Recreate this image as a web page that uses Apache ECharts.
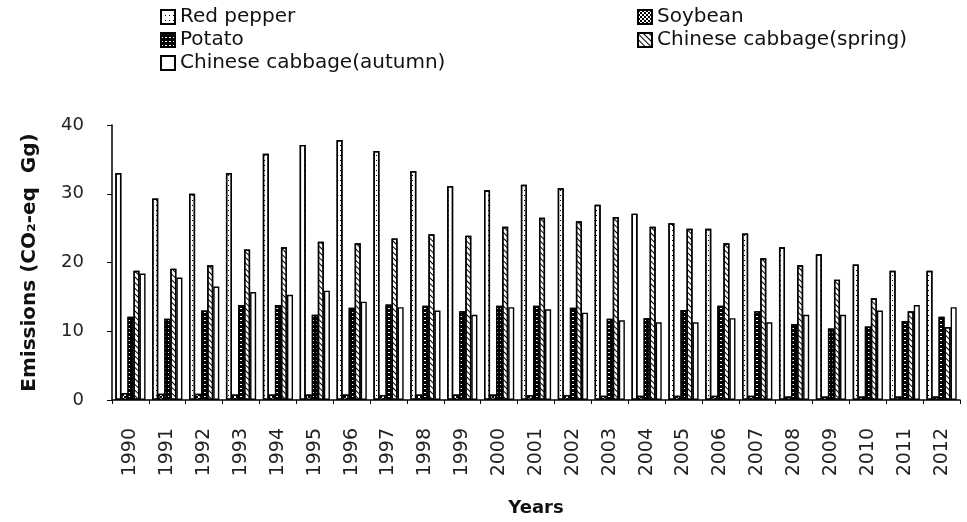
<!DOCTYPE html>
<html>
<head>
<meta charset="utf-8">
<script src="https://cdn.jsdelivr.net/npm/echarts@6/dist/echarts.min.js"></script>
<style>
  html, body { margin: 0; padding: 0; background: #fff; }
  #chart { width: 967px; height: 522px; }
</style>
</head>
<body>
<div id="chart"></div>
<script>
var years = ['1990', '1991', '1992', '1993', '1994', '1995', '1996', '1997', '1998', '1999', '2000', '2001',
  '2002', '2003', '2004', '2005', '2006', '2007', '2008', '2009', '2010', '2011', '2012'];

var redPepper = [33.0, 29.3, 30.0, 33.0, 35.8, 37.1, 37.8, 36.2, 33.3, 31.1, 30.5, 31.3,
  30.8, 28.4, 27.1, 25.7, 24.9, 24.2, 22.2, 21.2, 19.7, 18.8, 18.8];
var soybean = [1.0, 0.9, 0.9, 0.8, 0.8, 0.8, 0.8, 0.7, 0.8, 0.8, 0.8, 0.7,
  0.7, 0.6, 0.6, 0.6, 0.6, 0.6, 0.5, 0.5, 0.5, 0.5, 0.5];
var potato = [12.1, 11.8, 13.0, 13.8, 13.8, 12.4, 13.4, 13.9, 13.7, 12.9, 13.7, 13.7,
  13.4, 11.8, 11.9, 13.1, 13.7, 12.9, 11.0, 10.4, 10.7, 11.5, 12.1];
var cabbageSpring = [18.8, 19.1, 19.6, 21.9, 22.2, 23.0, 22.8, 23.5, 24.1, 23.9, 25.2, 26.5,
  26.0, 26.6, 25.2, 24.9, 22.8, 20.6, 19.6, 17.5, 14.8, 12.9, 10.6];
var cabbageAutumn = [18.4, 17.8, 16.5, 15.7, 15.3, 15.9, 14.3, 13.5, 13.0, 12.4, 13.5, 13.2,
  12.7, 11.6, 11.3, 11.3, 11.9, 11.3, 12.4, 12.4, 13.0, 13.8, 13.5];

var yTicks = { min: 0, max: 40, step: 10 };

(function () {
  var mychart = echarts.init(document.getElementById('chart'));

  var legendText = { fontFamily: 'DejaVu Sans', fontSize: 20, color: '#111' };

  function bar(name, data, fill, decal) {
    return {
      name: name,
      type: 'bar',
      data: data,
      barGap: '0%',
      barCategoryGap: '18%',
      itemStyle: {
        color: fill,
        borderColor: '#000',
        borderWidth: 1.4,
        decal: decal
      }
    };
  }

  var option = {
    animation: false,
    backgroundColor: '#fff',
    legend: [
      {
        left: 155, top: 2, orient: 'vertical', itemGap: 3,
        itemWidth: 14, itemHeight: 14, icon: 'rect',
        textStyle: legendText,
        data: ['Red pepper', 'Potato', 'Chinese cabbage(autumn)']
      },
      {
        left: 632, top: 2, orient: 'vertical', itemGap: 3,
        itemWidth: 14, itemHeight: 14, icon: 'rect',
        textStyle: legendText,
        data: ['Soybean', 'Chinese cabbage(spring)']
      }
    ],
    grid: { left: 112, right: 7, top: 125, bottom: 116 },
    xAxis: {
      type: 'category',
      data: years,
      name: 'Years',
      nameLocation: 'middle',
      nameGap: 99,
      nameTextStyle: { fontFamily: 'DejaVu Sans', fontWeight: 'bold', fontSize: 18, color: '#111' },
      axisLine: { lineStyle: { color: '#000', width: 1.5 } },
      axisTick: { show: true, length: 4, lineStyle: { color: '#000' } },
      axisLabel: {
        rotate: 90, margin: 28, interval: 0,
        fontFamily: 'DejaVu Sans', fontSize: 19, color: '#222'
      }
    },
    yAxis: {
      type: 'value',
      min: yTicks.min,
      max: yTicks.max,
      interval: yTicks.step,
      name: 'Emissions (CO\u2082-eq  Gg)',
      nameLocation: 'middle',
      nameRotate: 90,
      nameGap: 72,
      nameTextStyle: { fontFamily: 'DejaVu Sans', fontWeight: 'bold', fontSize: 20, color: '#111' },
      axisLine: { show: true, lineStyle: { color: '#000', width: 1.5 } },
      axisTick: { show: true, length: 5, lineStyle: { color: '#000' } },
      splitLine: { show: false },
      axisLabel: { margin: 28, fontFamily: 'DejaVu Sans', fontSize: 18, color: '#222' }
    },
    series: [
      bar('Red pepper', redPepper, '#fff',
        { color: '#000', symbol: 'rect', symbolSize: 1, dashArrayX: [1, 3], dashArrayY: [1, 4] }),
      bar('Soybean', soybean, '#000',
        { color: '#fff', symbol: 'rect', symbolSize: 1, dashArrayX: [[2, 2], [0, 2, 2, 0]], dashArrayY: [2, 0] }),
      bar('Potato', potato, '#000',
        { color: '#fff', symbol: 'rect', symbolSize: 1, dashArrayX: [2, 2], dashArrayY: [1, 3] }),
      bar('Chinese cabbage(spring)', cabbageSpring, '#fff',
        { color: '#000', symbol: 'rect', symbolSize: 1, dashArrayX: [1, 0], dashArrayY: [1, 3], rotation: Math.PI / 4 }),
      bar('Chinese cabbage(autumn)', cabbageAutumn, '#fff', null)
    ]
  };
  mychart.setOption(option);
})();
</script>
</body>
</html>
